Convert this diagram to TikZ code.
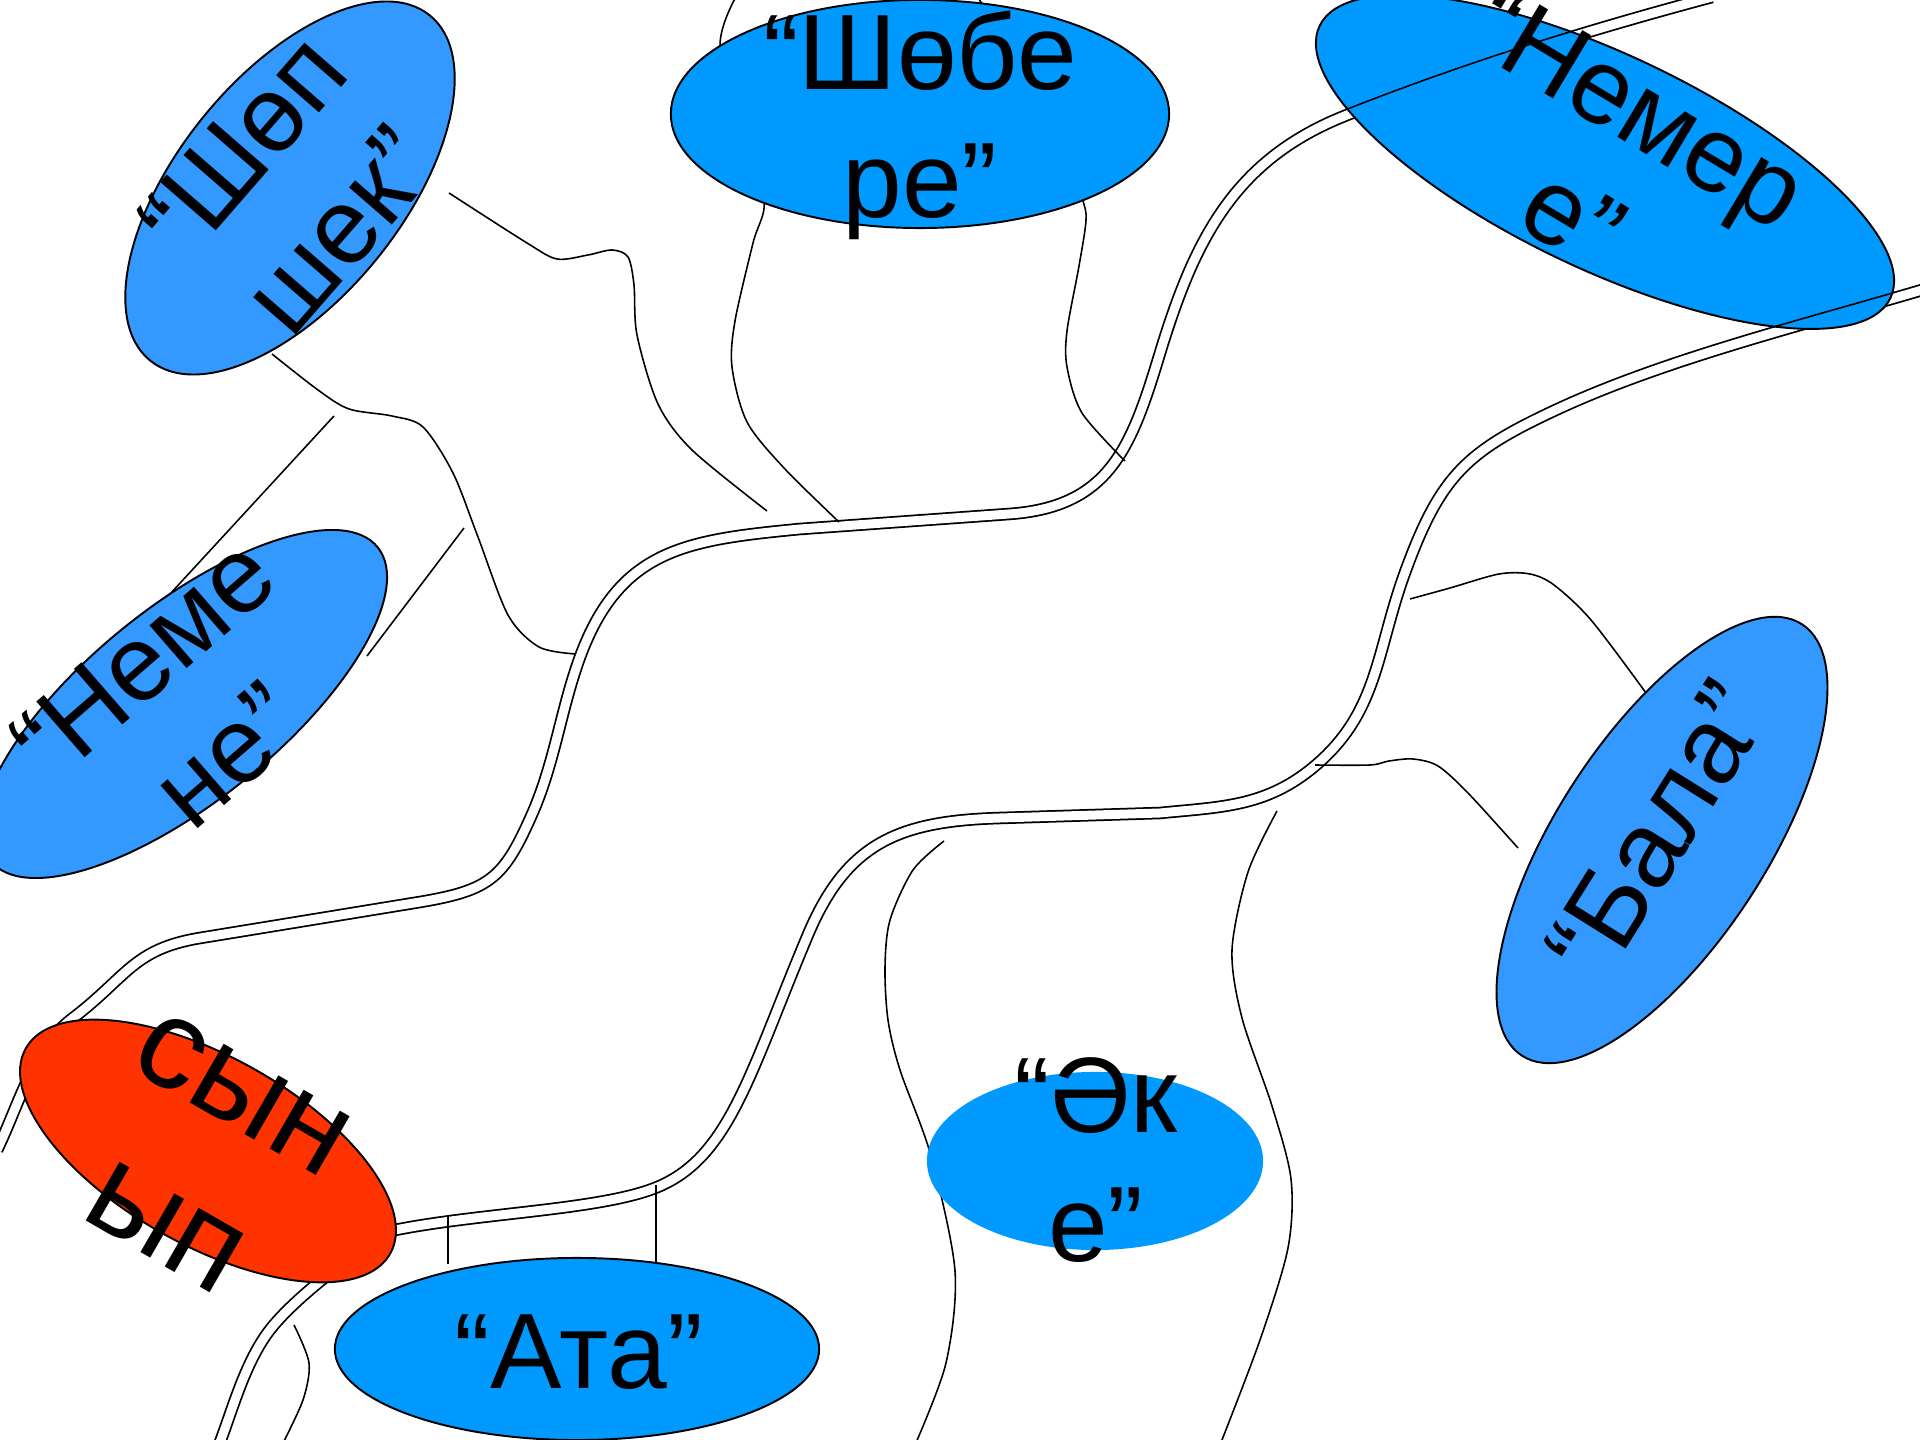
\documentclass[tikz,border=0pt]{standalone}
\usepackage{fontspec}
\setmainfont{Liberation Sans}
\usetikzlibrary{shapes.geometric}
\definecolor{paleblue}{HTML}{3399FF}
\definecolor{skyblue}{HTML}{0099FF}
\definecolor{classred}{HTML}{FF3300}
\begin{document}
\begin{tikzpicture}[x=0.01cm,y=-0.01cm,
	trunk/.style={double,double distance=0.09cm,line width=0.5pt},
	twig/.style={line width=0.45pt},
	leaf/.style={ellipse,draw,line width=0.55pt,inner sep=0pt},
	word/.style={font=\fontsize{30.5}{36.5}\selectfont,align=center,inner sep=0pt}]
	\useasboundingbox (0,0) rectangle (1920,1440);
	\clip (0,0) rectangle (1920,1440);
	% trunk
	\draw[trunk] (1712,-3) .. controls (1588,30) and (1466,68) .. (1347,115)
		.. controls (1235,159) and (1195,238) .. (1160,353)
		.. controls (1131,449) and (1109,507) .. (1009,514) -- (800,529)
		.. controls (686,540) and (620,549) .. (580,657)
		.. controls (561,709) and (555,761) .. (533,812)
		.. controls (504,878) and (491,890) .. (420,902) -- (200,938)
		.. controls (133,949) and (127,977) .. (73,1018)
		.. controls (33,1048) and (19,1105) .. (-3,1150);
	\draw[trunk] (1922,290) .. controls (1807,324) and (1669,358) .. (1560,408)
		.. controls (1469,450) and (1442,473) .. (1407,567)
		.. controls (1375,652) and (1380,714) .. (1310,770)
		.. controls (1263,807) and (1220,807) .. (1160,813) -- (1000,818)
		.. controls (898,821) and (846,843) .. (807,937)
		.. controls (749,1075) and (729,1159) .. (655,1188)
		.. controls (599,1210) and (480,1213) .. (395,1230)
		.. controls (359,1248) and (293,1299) .. (269,1331)
		.. controls (245,1363) and (233,1408) .. (219,1445);
	% branches
	\draw[twig] plot[smooth] coordinates {(449,193) (527,243) (557,259) (588,255) (612,250) (628,257) (634,285) (637,335) (658,404) (692,450) (767,511)};
	\draw[twig] plot[smooth] coordinates {(272,354) (318,390) (349,409) (392,416) (423,427) (453,473) (478,537) (508,615) (539,647) (576,654)};
	\draw[twig] (334,416)--(159,606);
	\draw[twig] (464,528)--(367,656);
	\draw[twig] plot[smooth] coordinates {(737,-5) (720,46) (740,150) (764,202) (753,243) (735,321) (732,367) (747,422) (784,468) (839,522)};
	\draw[twig] plot[smooth] coordinates {(976,-5) (1000,30) (1060,120) (1082,197) (1086,220) (1079,266) (1067,331) (1067,367) (1082,413) (1125,461)};
	\draw[twig] plot[smooth] coordinates {(1410,599) (1450,588) (1499,574) (1530,574) (1554,585) (1591,620) (1646,693) (1660,715)};
	\draw[twig] plot[smooth] coordinates {(1315,765) (1370,765) (1389,761) (1413,759) (1438,766) (1468,793) (1518,848)};
	\draw[twig] plot[smooth] coordinates {(944,841) (913,870) (890,920) (885,967) (888,1020) (900,1070) (931,1156) (955,1271) (946,1363) (915,1445)};
	\draw[twig] plot[smooth] coordinates {(1277,811) (1248,872) (1232,950) (1242,1018) (1272,1106) (1291,1179) (1288,1248) (1260,1340) (1220,1445)};
	\draw[twig] (448,1216)--(448,1264);
	\draw[twig] (656,1185)--(656,1264);
	\draw[twig] plot[smooth] coordinates {(294,1325) (309,1363) (303,1400) (282,1445)};
	% leaves
	\node[leaf,fill=paleblue,minimum width=4.44cm,minimum height=2.24cm,rotate=51] (shopshek) at (290,188) {};
	\node[leaf,fill=skyblue,minimum width=4.98cm,minimum height=2.28cm] (shobere) at (920,114) {};
	\node[leaf,fill=skyblue,minimum width=6.32cm,minimum height=2.14cm,rotate=-25.5] (nemere) at (1605,162) {};
	\node[leaf,fill=paleblue,minimum width=4.98cm,minimum height=1.94cm,rotate=39] (nemene) at (184,704) {};
	\node[leaf,fill=classred,minimum width=4.18cm,minimum height=1.88cm,rotate=-29.4] (synyp) at (208,1151) {};
	\node[leaf,fill=skyblue,minimum width=4.84cm,minimum height=1.82cm] (ata) at (577,1349) {};
	\node[leaf,draw=none,fill=skyblue,minimum width=3.36cm,minimum height=1.78cm] (ake) at (1095,1161) {};
	\node[leaf,fill=paleblue,minimum width=5.14cm,minimum height=2.10cm,rotate=57] (bala) at (1662,840) {};
	% one rim of the trunk shows over the nemere leaf
	\begin{scope}
		\clip[rotate around={-25.5:(1605,162)}] (1605,162) ellipse [x radius=3.16cm,y radius=1.07cm];
		\draw[twig] (1710,-8) .. controls (1586,25) and (1464,63) .. (1345,110);
		\draw[twig] (1920,285) .. controls (1805,319) and (1667,353) .. (1558,403);
	\end{scope}
	% words
	\node[word,rotate=49] (shopshek-w) at (291,188) {“Шөп\\шек”};
	\node[word] (shobere-w) at (920,125) {“Шөбе\\ре”};
	\node[word,rotate=-31] (nemere-w) at (1606,163) {“Немер\\е”};
	\node[word,rotate=41] (nemene-w) at (185,707) {“Неме\\не”};
	\node[word,font=\fontsize{36.5}{44}\selectfont,rotate=-30] (synyp-w) at (204,1160) {сын\\ып};
	\node[word] (ata-w) at (579,1352) {“Ата”};
	\node[word] (ake-w) at (1096,1160) {“Әк\\е”};
	\node[word,rotate=58] (bala-w) at (1657,830) {“Бала”};
\end{tikzpicture}
\end{document}
